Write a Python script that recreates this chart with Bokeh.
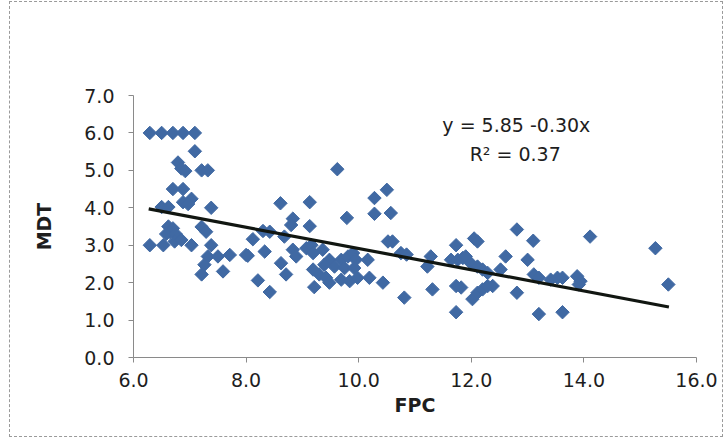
from bokeh.plotting import figure
from bokeh.models import FixedTicker, NumeralTickFormatter, Range1d
from bokeh.core.properties import value
from bokeh.embed import file_html
from bokeh.resources import INLINE
import math

fpc = [6.29, 6.50, 6.70, 6.88, 7.09, 7.09, 6.79, 6.85, 6.92, 7.21, 7.32,
       6.70, 6.88, 6.88, 7.03, 6.97, 6.50, 6.62, 7.38,
       6.62, 6.70, 6.65, 6.58, 6.75, 7.21, 7.29,
       6.29, 6.53, 6.73, 6.85, 7.03, 7.38,
       7.32, 7.26, 7.21, 7.50, 7.71, 7.59, 8.00,
       9.62, 10.50, 10.28, 8.61, 9.13, 10.28, 10.57, 8.83, 9.79, 8.80, 9.13,
       8.30, 8.42, 8.12, 8.68, 10.52, 10.60, 8.03, 8.33, 8.83, 8.89, 9.07,
       9.16, 9.19, 9.36, 8.62, 9.48, 9.39, 9.69, 9.81, 9.90, 9.95, 10.16,
       9.57, 9.75, 9.92, 8.71, 9.19, 9.30, 9.42, 9.48, 9.69, 9.84, 9.98,
       10.19, 8.21, 8.42, 9.21, 10.43,
       10.75, 10.85, 10.81, 11.28, 11.22, 11.31, 11.73, 12.05, 12.11, 11.64, 11.76,
       11.85, 11.90, 11.99, 12.11, 12.20, 12.29, 11.73, 11.82, 11.73, 12.02,
       12.11, 12.20, 12.29, 12.38, 12.61, 12.52, 12.81, 13.10, 13.00, 13.11,
       13.20, 12.81, 13.20,
       14.11, 15.27, 15.50, 13.41, 13.53, 13.62, 13.88, 13.94, 13.91, 13.62]
mdt = [6.00, 6.00, 6.00, 6.00, 6.00, 5.51, 5.21, 5.05, 4.98, 5.00, 5.00,
       4.50, 4.50, 4.15, 4.24, 4.10, 4.02, 4.02, 4.00,
       3.50, 3.45, 3.35, 3.30, 3.30, 3.49, 3.36,
       3.00, 3.00, 3.10, 3.14, 3.00, 3.00,
       2.70, 2.48, 2.22, 2.70, 2.74, 2.30, 2.74,
       5.03, 4.48, 4.26, 4.12, 4.15, 3.84, 3.86, 3.71, 3.73, 3.54, 3.51,
       3.38, 3.36, 3.16, 3.23, 3.10, 3.10, 2.72, 2.83, 2.88, 2.70, 2.92,
       3.00, 2.79, 2.88, 2.52, 2.61, 2.48, 2.61, 2.70, 2.79, 2.61, 2.61,
       2.43, 2.39, 2.39, 2.22, 2.35, 2.22, 2.13, 2.00, 2.08, 2.04, 2.13,
       2.13, 2.06, 1.75, 1.88, 2.00,
       2.79, 2.75, 1.60, 2.70, 2.43, 1.82, 3.00, 3.18, 3.10, 2.61, 2.61,
       2.66, 2.70, 2.52, 2.43, 2.35, 2.26, 1.91, 1.87, 1.21, 1.56,
       1.73, 1.82, 1.91, 1.91, 2.70, 2.35, 3.42, 3.12, 2.61, 2.22,
       2.13, 1.73, 1.16,
       3.23, 2.92, 1.95, 2.08, 2.13, 2.13, 2.17, 2.04, 1.95, 1.21]

trend_x = [6.27, 15.51]
trend_y = [3.97, 1.35]

eq_text = ["y = 5.85 -0.30x", "R\u00b2 = 0.37"]
eq_x = [12.80, 12.78]
eq_y = [6.20, 5.45]

x_ticks = [6, 8, 10, 12, 14, 16]
y_ticks = [0, 1, 2, 3, 4, 5, 6, 7]

p = figure(width=712, height=434, output_backend="svg", toolbar_location=None,
           x_range=Range1d(6, 16), y_range=Range1d(0, 7),
           min_border_left=123, min_border_right=26,
           min_border_top=93, min_border_bottom=79)
p.margin = (2, 3, 4, 10)
p.styles = {"outline": "1px dashed #9a9a9a", "outline-offset": "0px"}

p.outline_line_color = None
p.xgrid.visible = False
p.ygrid.visible = False
p.background_fill_color = "white"
p.border_fill_color = "white"

font = "DejaVu Sans"
for ax in (p.xaxis[0], p.yaxis[0]):
    ax.axis_line_color = "#8a8a8a"
    ax.major_tick_line_color = "#8a8a8a"
    ax.minor_tick_line_color = None
    ax.major_tick_in = 0
    ax.major_tick_out = 5
    ax.major_label_text_font = font
    ax.major_label_text_font_size = "19px"
    ax.major_label_text_color = "#1e1e1e"
    ax.axis_label_text_font = font
    ax.axis_label_text_font_style = "bold"
    ax.axis_label_text_font_size = "19px"
    ax.axis_label_text_color = "#1e1e1e"
    ax.formatter = NumeralTickFormatter(format="0.0")

p.xaxis.ticker = FixedTicker(ticks=x_ticks)
p.yaxis.ticker = FixedTicker(ticks=y_ticks)
p.xaxis.axis_label = "FPC"
p.yaxis.axis_label = "MDT"
p.xaxis.major_label_standoff = 10
p.xaxis.axis_label_standoff = 4
p.yaxis.major_label_standoff = 14
p.yaxis.axis_label_standoff = 26

p.scatter(fpc, mdt, marker="square", size=9.5, angle=math.pi / 4,
          fill_color="#4069a3", line_color="#4069a3", line_width=1)
p.line(trend_x, trend_y, line_color="#111611", line_width=3.2)

p.text(x=eq_x, y=eq_y, text=eq_text, text_font=value(font),
       text_font_size="19px", text_color="#1e1e1e",
       text_align="center", text_baseline="middle")

open("out.html", "w").write(file_html(p, INLINE))
